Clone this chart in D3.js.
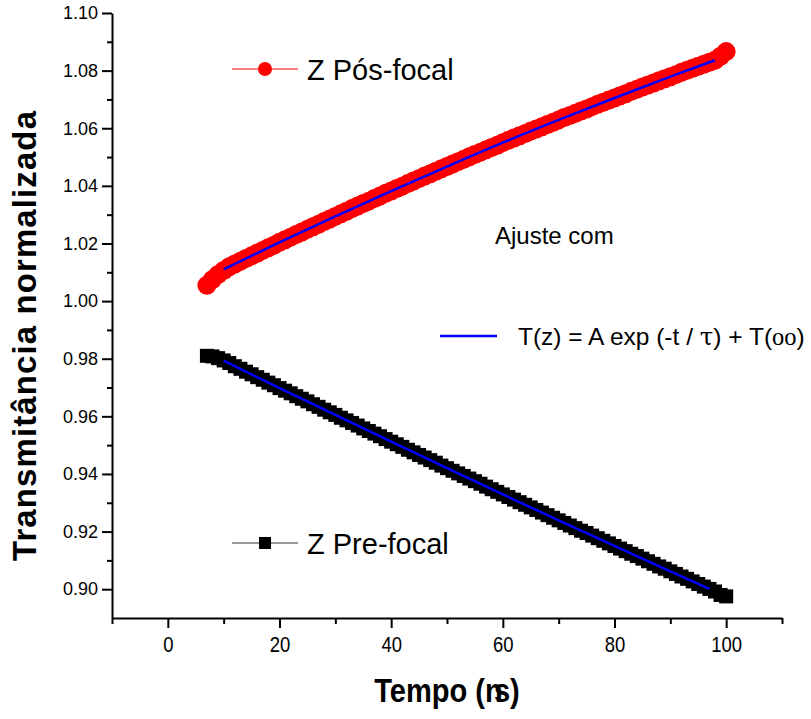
<!DOCTYPE html>
<html>
<head>
<meta charset="utf-8">
<script src="https://cdn.jsdelivr.net/npm/d3@7"></script>
<style>
  body { margin: 0; background: #fff; }
  svg { display: block; }
  text { font-family: "Liberation Sans", Arial, sans-serif; fill: #000; }
</style>
</head>
<body>
<svg id="chart" width="811" height="719"></svg>
<script>
// tempo (ns) dos pontos medidos: um ponto por ns, de 7 a 100
var tempoStart = 7, tempoEnd = 100;

// Z pos-focal (circulos vermelhos)
var posFocal = [
  1.0055, 1.0075, 1.0092, 1.0106, 1.0119, 1.0129, 1.0138, 1.0148, 1.0157, 1.0166,
  1.0176, 1.0185, 1.0194, 1.0204, 1.0213, 1.0222, 1.0231, 1.0240, 1.0249, 1.0258,
  1.0267, 1.0276, 1.0285, 1.0294, 1.0303, 1.0312, 1.0321, 1.0330, 1.0339, 1.0347,
  1.0356, 1.0365, 1.0374, 1.0382, 1.0391, 1.0399, 1.0408, 1.0417, 1.0425, 1.0434,
  1.0442, 1.0451, 1.0459, 1.0467, 1.0476, 1.0484, 1.0492, 1.0501, 1.0509, 1.0517,
  1.0525, 1.0533, 1.0541, 1.0550, 1.0558, 1.0566, 1.0574, 1.0582, 1.0590, 1.0597,
  1.0605, 1.0613, 1.0621, 1.0629, 1.0637, 1.0644, 1.0652, 1.0660, 1.0667, 1.0675,
  1.0683, 1.0690, 1.0698, 1.0705, 1.0713, 1.0720, 1.0728, 1.0735, 1.0743, 1.0750,
  1.0757, 1.0765, 1.0772, 1.0779, 1.0786, 1.0794, 1.0801, 1.0808, 1.0815, 1.0822,
  1.0829, 1.0836, 1.0850, 1.0866
];

// Z pre-focal (quadrados pretos)
var preFocal = [
  0.9810, 0.9808, 0.9802, 0.9794, 0.9785, 0.9774, 0.9765, 0.9755, 0.9746, 0.9736,
  0.9727, 0.9717, 0.9708, 0.9698, 0.9689, 0.9680, 0.9670, 0.9661, 0.9652, 0.9642,
  0.9633, 0.9623, 0.9614, 0.9605, 0.9595, 0.9586, 0.9577, 0.9568, 0.9558, 0.9549,
  0.9540, 0.9531, 0.9521, 0.9512, 0.9503, 0.9494, 0.9484, 0.9475, 0.9466, 0.9457,
  0.9448, 0.9439, 0.9429, 0.9420, 0.9411, 0.9402, 0.9393, 0.9384, 0.9375, 0.9366,
  0.9356, 0.9347, 0.9338, 0.9329, 0.9320, 0.9311, 0.9302, 0.9293, 0.9284, 0.9275,
  0.9266, 0.9257, 0.9248, 0.9239, 0.9230, 0.9221, 0.9212, 0.9203, 0.9195, 0.9186,
  0.9177, 0.9168, 0.9159, 0.9150, 0.9141, 0.9132, 0.9123, 0.9115, 0.9106, 0.9097,
  0.9088, 0.9079, 0.9071, 0.9062, 0.9053, 0.9044, 0.9036, 0.9027, 0.9018, 0.9009,
  0.9001, 0.8992, 0.8980, 0.8975
];

// curvas de ajuste (azul)
var ajustePosT = [10, 20, 30, 40, 50, 60, 70, 80, 90, 98];
var ajustePosV = [1.0110, 1.0204, 1.0294, 1.0382, 1.0467, 1.0550, 1.0629, 1.0705, 1.0779, 1.0836];
var ajustePreT = [10, 20, 30, 40, 50, 60, 70, 80, 90, 97];
var ajustePreV = [0.9793, 0.9698, 0.9605, 0.9512, 0.9420, 0.9329, 0.9239, 0.9150, 0.9062, 0.9001];

// eixos
var xMajor = [0, 20, 40, 60, 80, 100];
var xMinor = [-10, 10, 30, 50, 70, 90, 110];
var yMajor = [0.90, 0.92, 0.94, 0.96, 0.98, 1.00, 1.02, 1.04, 1.06, 1.08, 1.10];
var yMinor = [0.91, 0.93, 0.95, 0.97, 0.99, 1.01, 1.03, 1.05, 1.07, 1.09];

var tempo = d3.range(tempoStart, tempoEnd + 1);

var svg = d3.select('#chart');
var x = d3.scaleLinear().domain([-10, 110]).range([112, 782]);
var y = d3.scaleLinear().domain([0.89, 1.10]).range([618, 13]);

/** AXES **/
function styleAxis(g){
   g.select('.domain').attr('stroke', '#000').attr('stroke-width', 2);
   g.selectAll('.tick line').attr('stroke', '#000').attr('stroke-width', 2);
}

svg.append('g')
   .attr('transform', 'translate(0,618)')
   .call(d3.axisBottom(x).tickValues(xMinor).tickSize(6).tickSizeOuter(0).tickFormat(''))
   .call(styleAxis);
svg.append('g')
   .attr('transform', 'translate(0,618)')
   .call(d3.axisBottom(x).tickValues(xMajor).tickSize(10).tickSizeOuter(0).tickPadding(8))
   .call(styleAxis)
   .call(function(g){
      g.select('.domain').remove();
      // etiquetas estreitas como no original
      g.selectAll('.tick text')
         .attr('transform', 'scale(0.84,1)')
         .style('font-size', '22px');
   });

svg.append('g')
   .attr('transform', 'translate(112,0)')
   .call(d3.axisLeft(y).tickValues(yMinor).tickSize(5).tickSizeOuter(0).tickFormat(''))
   .call(styleAxis);
svg.append('g')
   .attr('transform', 'translate(112,0)')
   .call(d3.axisLeft(y).tickValues(yMajor).tickSize(10).tickSizeOuter(0).tickPadding(4)
      .tickFormat(d3.format('.2f')))
   .call(styleAxis)
   .call(function(g){
      g.select('.domain').remove();
      g.selectAll('.tick text').style('font-size', '18px');
   });

/** SERIES **/
var line = d3.line()
   .x(function(d){ return x(d[0]); })
   .y(function(d){ return y(d[1]); });

var posData = tempo.map(function(t, i){ return [t, posFocal[i]]; });
var preData = tempo.map(function(t, i){ return [t, preFocal[i]]; });

svg.append('path').datum(posData)
   .attr('d', line).attr('fill', 'none').attr('stroke', '#ff0000').attr('stroke-width', 1);
svg.append('g').selectAll('circle')
   .data(posData)
   .enter()
   .append('circle')
   .attr('cx', function(d){ return x(d[0]); })
   .attr('cy', function(d){ return y(d[1]); })
   .attr('r', 9.5)
   .attr('fill', '#ff0000');

svg.append('path').datum(preData)
   .attr('d', line).attr('fill', 'none').attr('stroke', '#000').attr('stroke-width', 1);
svg.append('g').selectAll('rect')
   .data(preData)
   .enter()
   .append('rect')
   .attr('x', function(d){ return x(d[0]) - 7; })
   .attr('y', function(d){ return y(d[1]) - 7; })
   .attr('width', 14)
   .attr('height', 14)
   .attr('fill', '#000');

var fitLine = d3.line()
   .curve(d3.curveMonotoneX)
   .x(function(d){ return x(d[0]); })
   .y(function(d){ return y(d[1]); });

svg.append('path')
   .datum(ajustePosT.map(function(t, i){ return [t, ajustePosV[i]]; }))
   .attr('d', fitLine).attr('fill', 'none').attr('stroke', '#0000ff').attr('stroke-width', 2.5);
svg.append('path')
   .datum(ajustePreT.map(function(t, i){ return [t, ajustePreV[i]]; }))
   .attr('d', fitLine).attr('fill', 'none').attr('stroke', '#0000ff').attr('stroke-width', 2.5);

/** LEGENDS **/
var leg1 = svg.append('g').attr('transform', 'translate(232,69)');
leg1.append('line').attr('x1', 0).attr('x2', 66).attr('stroke', '#ff0000').attr('stroke-width', 1.2);
leg1.append('circle').attr('cx', 33).attr('r', 7).attr('fill', '#ff0000');
leg1.append('text').attr('x', 75).attr('y', 11).style('font-size', '29px').text('Z Pós-focal');

var leg2 = svg.append('g').attr('transform', 'translate(232,543)');
leg2.append('line').attr('x1', 0).attr('x2', 66).attr('stroke', '#333').attr('stroke-width', 1.2);
leg2.append('rect').attr('x', 27).attr('y', -6).attr('width', 12).attr('height', 12).attr('fill', '#000');
leg2.append('text').attr('x', 75).attr('y', 11).style('font-size', '29px').text('Z Pre-focal');

svg.append('text').attr('x', 495).attr('y', 244).style('font-size', '24px').text('Ajuste com');

var leg3 = svg.append('g').attr('transform', 'translate(440,336)');
leg3.append('line').attr('x1', 0).attr('x2', 57).attr('stroke', '#0000ff').attr('stroke-width', 2.5);
var eq = leg3.append('text').attr('x', 78).attr('y', 9).style('font-size', '24.5px');
eq.append('tspan').text('T(z) = A exp (-t / ');
eq.append('tspan').style('font-family', '"DejaVu Serif", "Liberation Serif", serif').text('τ');
eq.append('tspan').text(') + T(');
eq.append('tspan').style('font-family', '"Liberation Serif", serif').text('oo');
eq.append('tspan').text(')');

/** AXIS TITLES **/
svg.append('text')
   .attr('transform', 'translate(36,336) rotate(-90)')
   .attr('text-anchor', 'middle')
   .attr('textLength', 450)
   .attr('lengthAdjust', 'spacing')
   .style('font-size', '33px')
   .style('font-weight', 'bold')
   .text('Transmitância normalizada');

var xt = svg.append('text')
   .attr('transform', 'translate(447,702) scale(0.88,1)')
   .attr('text-anchor', 'middle')
   .style('font-size', '33px')
   .style('font-weight', 'bold');
xt.append('tspan').text('Tempo (n');
xt.append('tspan').attr('dx', -10).text('s');
xt.append('tspan').text(')');
</script>
</body>
</html>
